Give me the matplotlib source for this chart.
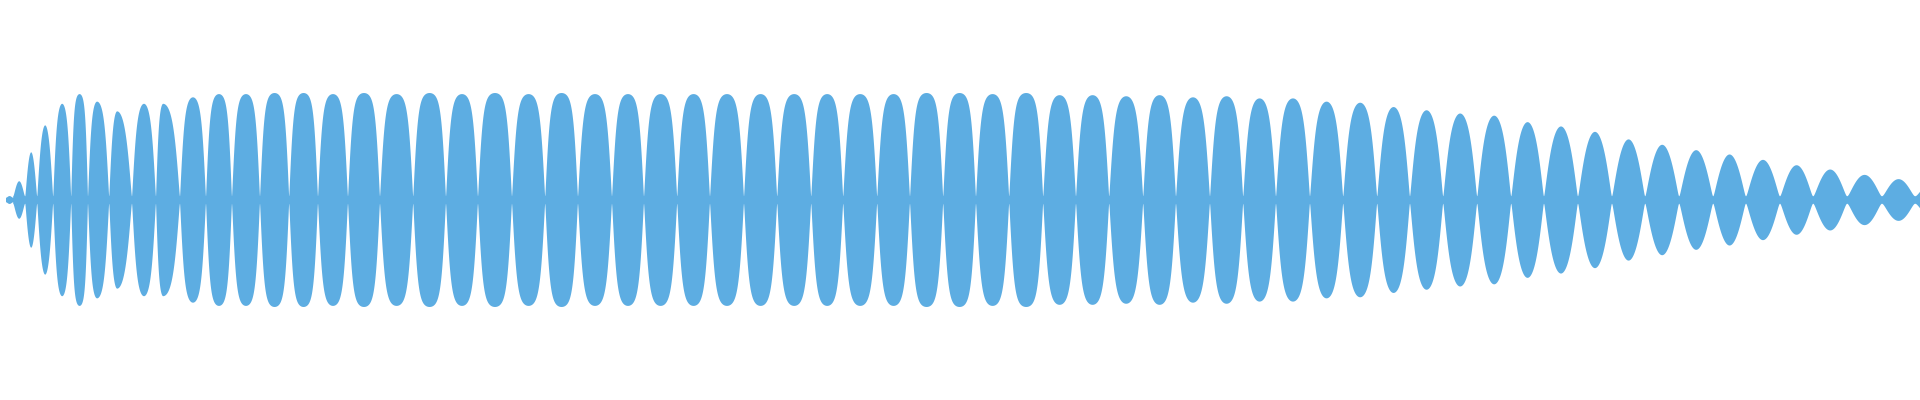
import numpy as np
import matplotlib
matplotlib.use("Agg")
import matplotlib.pyplot as plt

# lobe boundaries of the waveform envelope (ms)
bounds_ms = [15, 33, 63, 93, 133, 178, 220, 273, 330, 390, 450, 515, 580, 650, 723,
             795, 870, 950, 1033, 1115, 1195, 1280, 1363, 1445, 1530, 1610, 1693, 1775,
             1860, 1943, 2028, 2108, 2193, 2275, 2358, 2440, 2523, 2608, 2690, 2773,
             2858, 2940, 3025, 3108, 3190, 3275, 3358, 3443, 3525, 3608, 3693, 3778,
             3860, 3945, 4030, 4113, 4198, 4283, 4365, 4450, 4533, 4618, 4705, 4788, 4870]

# peak amplitude of each lobe (normalised)
peaks = [0.03, 0.17, 0.44, 0.69, 0.89, 0.98, 0.91, 0.82, 0.89, 0.89, 0.95, 0.98, 0.98,
         0.99, 0.99, 0.98, 0.99, 0.98, 0.99, 0.98, 0.99, 0.98, 0.99, 0.98, 0.98,
         0.98, 0.98, 0.98, 0.98, 0.98, 0.98, 0.98, 0.98,
         0.99, 0.99, 0.98, 0.99, 0.97, 0.97, 0.96, 0.97, 0.95, 0.96, 0.94, 0.94,
         0.91, 0.90, 0.86, 0.83, 0.80, 0.78, 0.72, 0.68, 0.63, 0.56, 0.51, 0.46,
         0.42, 0.37, 0.32, 0.28, 0.23, 0.19, 0.15]

# lobes whose peak is not centred: index -> relative peak position
skewed = {6: 0.43, 7: 0.35, 9: 0.30}

floor = 0.035
sat = 2.2  # soft clipping strength, makes the loud lobes fuller
color = "#5DADE2"

t_all, env_all = [], []
for i in range(len(peaks)):
    a, b = bounds_ms[i], bounds_ms[i + 1]
    p = skewed.get(i, 0.5)
    t = np.linspace(a, b, 300)
    u = (t - a) / (b - a)
    s = np.where(u < p, 0.5 * u / p, 0.5 + 0.5 * (u - p) / (1 - p))
    raw = np.arctanh(peaks[i] * np.tanh(sat))
    shape = np.tanh(raw * np.sin(np.pi * s)) / np.tanh(sat)
    fl = floor * 0.6 if i == 0 else floor
    env = np.sqrt(fl ** 2 + shape ** 2)
    t_all.append(t)
    env_all.append(env)

t_all = np.concatenate(t_all)
env_all = np.concatenate(env_all)

fig = plt.figure(figsize=(19.2, 4), dpi=100)
ax = fig.add_axes([0, 0, 1, 1])
ax.fill_between(t_all, -env_all, env_all, color=color, linewidth=0)
ax.set_xlim(0, 4800)
ax.set_ylim(-200 / 108, 200 / 108)
ax.axis("off")

fig.savefig("out.png", dpi=100, facecolor="white")
